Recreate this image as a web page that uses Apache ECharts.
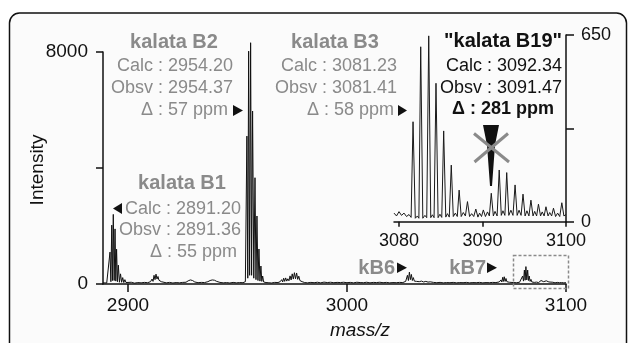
<!DOCTYPE html>
<html>
<head>
<meta charset="utf-8">
<script src="https://cdn.jsdelivr.net/npm/echarts@6/dist/echarts.min.js"></script>
<style>
html,body{margin:0;padding:0;background:#fff;}
#c{width:629px;height:343px;}
</style>
</head>
<body>
<div id="c"></div>
<script>
// ---- data ----
const mainXTicks = [2900, 3000, 3100];
const mainYTicks = [0, 4000, 8000];
const mainYLabels = [0, 8000];
const insetXTicks = [3080, 3090, 3100];
const insetYTicks = [0, 325, 650];
const insetYLabels = [0, 650];

// main spectrum [mass/z, intensity]
const mainSpectrum = [
  [2888.6,40],[2889.5,50],[2890.3,35],[2891.0,60],
  [2891.8,1100],[2892.2,80],[2892.6,2030],[2892.95,120],[2893.3,2400],[2893.7,120],[2894.1,1900],[2894.45,100],
  [2894.8,1200],[2895.2,80],[2895.6,650],[2896.1,60],[2896.6,350],[2897.1,60],[2897.6,220],[2898.1,50],[2898.6,150],[2899.1,50],
  [2900,40],[2901.5,60],[2903,30],[2904.5,50],[2906,40],[2907.5,55],[2909,45],[2910.3,80],
  [2911,170],[2911.45,90],[2911.9,300],[2912.35,150],[2912.8,340],[2913.25,170],[2913.7,260],[2914.15,130],[2914.6,160],[2915.2,80],[2916,60],
  [2917.5,40],[2919,55],[2920.5,35],[2922,50],[2923.5,40],[2925,55],[2926.5,60],[2927.5,110],[2928.5,140],[2929.5,120],[2930.5,70],
  [2932,45],[2933.5,55],[2935,50],[2936.5,80],[2937.5,120],[2938.5,140],[2939.5,130],[2940.5,90],[2942,55],[2943.5,40],[2945,50],
  [2946.5,35],[2948,55],[2949.5,40],[2951,50],[2952.5,45],[2953.6,80],
  [2954.3,5100],[2954.7,200],[2955.1,8030],[2955.55,300],[2956.0,8320],[2956.45,300],[2956.9,5965],[2957.45,200],[2958.0,3665],[2958.45,150],
  [2958.9,2345],[2959.35,120],[2959.8,1207],[2960.25,100],[2960.7,620],[2961.1,90],[2961.5,275],[2961.95,70],[2962.4,120],[2963,50],
  [2964,45],[2965.5,35],[2967,55],[2968.5,50],[2969.5,80],
  [2970.2,150],[2970.65,70],[2971.1,200],[2971.55,90],[2972.0,210],[2972.5,100],[2973.0,180],[2973.5,110],[2974.0,280],[2974.5,140],
  [2975.0,350],[2975.5,170],[2976.0,390],[2976.5,180],[2977.0,380],[2977.5,160],[2978.0,270],[2978.5,120],[2979.0,160],[2979.5,80],[2980.0,100],[2980.7,50],
  [2982,40],[2983.5,55],[2985,45],[2986.5,60],[2988,40],[2989.5,65],[2991,50],[2992.5,60],[2994,45],[2995.5,55],[2997,50],[2998.5,60],
  [3000,45],[3001.5,55],[3003,40],[3004.5,60],[3006,50],[3007.5,45],[3009,60],[3010.5,40],[3012,55],[3013.5,50],[3015,60],[3016.5,45],
  [3018,55],[3019.5,40],[3021,50],[3022.5,45],[3024,55],[3025.5,50],[3026.8,90],
  [3027.6,300],[3028.05,120],[3028.5,410],[3028.95,150],[3029.4,330],[3029.85,120],[3030.3,220],[3030.75,100],[3031.2,140],[3031.7,90],
  [3032.2,110],[3033,80],[3034,100],[3035,70],[3036,90],[3037,65],[3038,75],[3039.5,55],
  [3041,45],[3042.5,55],[3044,40],[3045.5,50],[3047,45],[3048.5,55],[3050,40],[3051.5,50],[3053,45],[3054.5,55],[3056,40],[3057.5,50],
  [3059,45],[3060.5,55],[3062,40],[3063.5,50],[3065,45],[3066.5,55],[3068,50],[3069.5,70],
  [3070.3,140],[3070.7,70],[3071.1,230],[3071.45,90],[3071.8,250],[3072.2,90],[3072.6,190],[3073.0,80],[3073.4,115],[3073.75,60],[3074.1,60],[3075,40],
  [3076,50],[3077.5,45],[3078.8,60],[3079.6,80],
  [3080.2,275],[3080.6,100],[3081.0,480],[3081.35,130],[3081.7,600],[3082.1,140],[3082.5,480],[3082.85,120],[3083.2,275],[3083.6,90],
  [3084.0,160],[3084.4,70],[3084.8,90],[3085.5,55],[3086.5,65],[3087.5,50],
  [3088.6,120],[3089.0,70],[3089.4,150],[3089.8,80],[3090.2,140],[3090.6,70],[3091.0,110],[3091.5,60],[3092.2,70],
  [3093,45],[3094,60],[3095,40],[3096,55],[3097,45],[3098,50],[3099,40],[3100,45]
];

// inset spectrum [mass/z, intensity]
const insetSpectrum = [
  [3079.4,30],[3079.7,20],[3080.0,35],[3080.3,22],[3080.6,30],[3080.9,18],[3081.2,25],[3081.45,15],
  [3081.68,348],[3081.95,12],[3082.2,20],[3082.38,12],[3082.6,609],[3082.85,12],[3083.1,22],[3083.32,14],
  [3083.56,647],[3083.8,14],[3084.0,24],[3084.2,14],[3084.43,482],[3084.68,14],[3084.9,26],[3085.12,15],
  [3085.35,316],[3085.6,16],[3085.8,28],[3086.02,16],[3086.26,197],[3086.5,18],[3086.75,30],[3086.98,18],
  [3087.2,110],[3087.45,18],[3087.7,32],[3087.95,20],[3088.2,70],[3088.45,18],[3088.7,28],[3088.95,18],
  [3089.2,44],[3089.45,16],[3089.65,30],[3089.88,18],[3090.1,41],[3090.35,18],[3090.6,34],[3090.82,20],
  [3091.05,99],[3091.3,20],[3091.5,36],[3091.75,20],[3092.0,180],[3092.25,22],[3092.45,38],[3092.68,22],
  [3092.9,171],[3093.15,22],[3093.4,40],[3093.65,22],[3093.9,128],[3094.15,22],[3094.38,40],[3094.62,22],
  [3094.85,96],[3095.1,20],[3095.32,38],[3095.56,20],[3095.8,75],[3096.05,20],[3096.25,36],[3096.48,20],
  [3096.7,61],[3096.95,20],[3097.15,34],[3097.38,20],[3097.6,52],[3097.85,20],[3098.05,32],[3098.28,20],
  [3098.5,47],[3098.75,18],[3099.0,30],[3099.25,18],[3099.5,66],[3099.75,20],[3100,25]
];

// ---- chart ----
const FONT = '"Liberation Sans", Arial, sans-serif';
const GREY = '#8a8a8a';
const INK = '#111';
const plain = v => String(v);

const chart = echarts.init(document.getElementById('c'), null, {renderer: 'canvas'});

function t(text, x, y, opts) {
  return {
    type: 'text', z: 100, silent: true,
    style: Object.assign({
      text: text, x: x, y: y, fill: GREY,
      font: '18px ' + FONT, align: 'right', verticalAlign: 'middle'
    }, opts || {})
  };
}
function tri(points, color) {
  return {type: 'polygon', z: 100, silent: true, shape: {points: points}, style: {fill: color || INK}};
}

const axisLineStyle = {show: true, lineStyle: {color: INK, width: 1.5}};

const option = {
  animation: false,
  backgroundColor: 'transparent',
  grid: [
    {left: 103, right: 63, top: 52, bottom: 59, containLabel: false},
    {left: 394, right: 63, top: 35, bottom: 121.3, containLabel: false}
  ],
  xAxis: [
    {
      type: 'value', gridIndex: 0, min: 2888.6, max: 3100,
      axisLine: axisLineStyle,
      axisTick: {show: true, length: 8, customValues: mainXTicks, lineStyle: {color: INK, width: 1.5}},
      axisLabel: {customValues: mainXTicks, formatter: plain, margin: 12, color: INK, fontSize: 19, fontFamily: FONT},
      splitLine: {show: false}
    },
    {
      type: 'value', gridIndex: 1, min: 3079.4, max: 3100,
      axisLine: axisLineStyle,
      axisTick: {show: true, length: 5, customValues: insetXTicks, lineStyle: {color: INK, width: 1.5}},
      axisLabel: {customValues: insetXTicks, formatter: plain, margin: 10, color: INK, fontSize: 18, fontFamily: FONT},
      splitLine: {show: false}
    }
  ],
  yAxis: [
    {
      type: 'value', gridIndex: 0, min: 0, max: 8000,
      axisLine: axisLineStyle,
      axisTick: {show: true, length: 7, customValues: mainYTicks, lineStyle: {color: INK, width: 1.5}},
      axisLabel: {customValues: mainYLabels, formatter: plain, margin: 15, color: INK, fontSize: 19, fontFamily: FONT},
      splitLine: {show: false}
    },
    {
      type: 'value', gridIndex: 1, position: 'right', min: 0, max: 650,
      axisLine: axisLineStyle,
      axisTick: {show: true, length: 8, customValues: insetYTicks, lineStyle: {color: INK, width: 1.5}},
      axisLabel: {customValues: insetYLabels, formatter: plain, margin: 15, color: INK, fontSize: 18, fontFamily: FONT},
      splitLine: {show: false}
    }
  ],
  series: [
    {
      type: 'line', xAxisIndex: 0, yAxisIndex: 0, data: mainSpectrum,
      showSymbol: false, clip: false, lineStyle: {color: INK, width: 1}, z: 3
    },
    {
      type: 'line', xAxisIndex: 1, yAxisIndex: 1, data: insetSpectrum,
      showSymbol: false, clip: false, lineStyle: {color: '#1a1a1a', width: 1}, z: 3
    }
  ],
  graphic: [
    // frame
    {type: 'rect', z: -10, silent: true, shape: {x: 9.5, y: 13, width: 617, height: 400, r: 10},
     style: {fill: '#fbfbfb', stroke: INK, lineWidth: 1.5}},
    // axis names
    {type: 'text', z: 100, silent: true, x: 38, y: 170, rotation: Math.PI / 2,
     style: {text: 'Intensity', x: 0, y: 0, fill: INK, font: '19px ' + FONT, align: 'center', verticalAlign: 'middle'}},
    t('mass/z', 360, 331, {align: 'center', fill: INK, font: 'italic 19px ' + FONT}),
    // kalata B2
    t('kalata B2', 174, 42, {align: 'center', font: 'bold 20px ' + FONT}),
    t('Calc : 2954.20', 233, 66.5),
    t('Obsv : 2954.37', 233, 88),
    t('Δ : 57 ppm', 228, 110),
    tri([[233, 105], [233, 116], [243, 110.5]]),
    // kalata B3
    t('kalata B3', 335, 42, {align: 'center', font: 'bold 20px ' + FONT}),
    t('Calc : 3081.23', 397, 66.5),
    t('Obsv : 3081.41', 397, 88),
    t('Δ : 58 ppm', 394, 110),
    tri([[398, 105], [398, 116], [407, 110.5]]),
    // kalata B1
    t('kalata B1', 182, 183, {align: 'center', font: 'bold 20px ' + FONT}),
    tri([[122, 203], [122, 214], [113, 208.5]]),
    t('Calc : 2891.20', 241, 209.5),
    t('Obsv : 2891.36', 241, 230.5),
    t('Δ : 55 ppm', 237, 252),
    // kB6 / kB7
    t('kB6', 395, 268, {font: 'bold 20px ' + FONT}),
    tri([[397, 262.5], [397, 273], [407, 267.75]]),
    t('kB7', 486, 268, {font: 'bold 20px ' + FONT}),
    tri([[487, 262.5], [487, 273], [497, 267.75]]),
    // dashed box
    {type: 'rect', z: 90, silent: true, shape: {x: 513.5, y: 255.5, width: 55, height: 33},
     style: {fill: 'none', stroke: '#8a8a8a', lineWidth: 1.5, lineDash: [3, 2]}},
    // kalata B19
    t('"kalata B19"', 562, 41, {fill: INK, font: 'bold 20px ' + FONT}),
    t('Calc : 3092.34', 562, 66.5, {fill: INK}),
    t('Obsv : 3091.47', 562, 88.3, {fill: INK}),
    t('Δ : 281 ppm', 503, 109.5, {align: 'center', fill: INK, font: 'bold 18px ' + FONT}),
    tri([[483, 125], [499, 125], [495, 145], [492, 186], [490, 186], [487, 145]]),
    {type: 'line', z: 101, silent: true, shape: {x1: 474, y1: 133.5, x2: 509, y2: 162},
     style: {stroke: '#8a8a8a', lineWidth: 3}},
    {type: 'line', z: 101, silent: true, shape: {x1: 508, y1: 133.5, x2: 474.5, y2: 162},
     style: {stroke: '#8a8a8a', lineWidth: 3}}
  ]
};
chart.setOption(option);
</script>
</body>
</html>
